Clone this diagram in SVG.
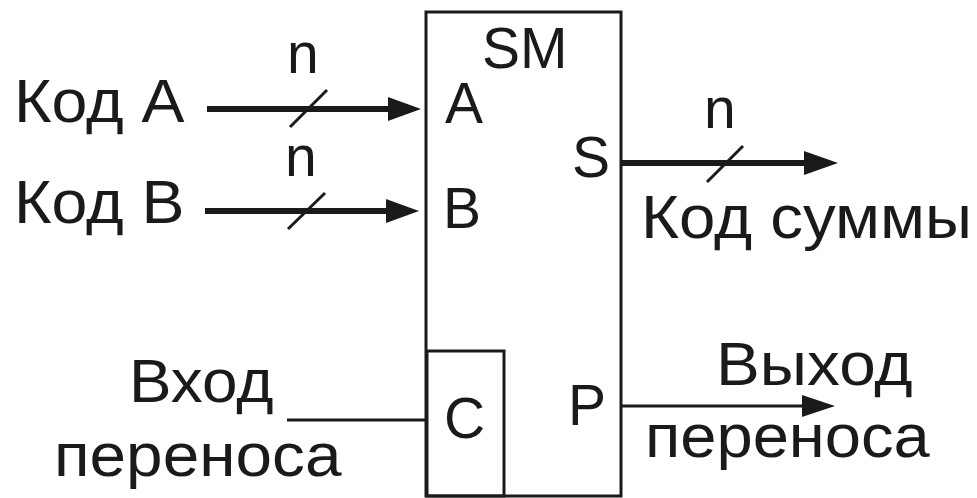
<svg xmlns="http://www.w3.org/2000/svg" width="977" height="498" viewBox="0 0 977 498">
<style>
text{font-family:"Liberation Sans",Arial,sans-serif;fill:#1a1a1a}
.big{font-size:62px}
.lbl{font-size:57px}
.box{fill:none;stroke:#1a1a1a;stroke-width:3}
.bus{stroke:#1a1a1a;stroke-width:6;fill:none}
.thin{stroke:#1a1a1a;stroke-width:3;fill:none}
.slash{stroke:#1a1a1a;stroke-width:3}
.head{fill:#1a1a1a}
</style>
<rect width="977" height="498" fill="#fff"/>
<g id="sm">
<rect class="box" x="426" y="12" width="195" height="484"/>
<rect class="box" x="427" y="351" width="77" height="145"/>
<text class="lbl" x="482" y="68">SM</text>
<text class="lbl" x="445" y="123">A</text>
<text class="lbl" x="443" y="228">B</text>
<text class="lbl" x="572" y="177">S</text>
<text class="lbl" x="444" y="438">C</text>
<text class="lbl" x="568" y="425">P</text>
</g>
<g id="labels">
<text class="big" transform="translate(14 122) scale(1.04 1)">Код A</text>
<text class="big" transform="translate(14 223) scale(1.04 1)">Код B</text>
<text class="lbl" x="287" y="73">n</text>
<text class="lbl" x="285" y="176">n</text>
<text class="lbl" x="704" y="128">n</text>
<text class="big" transform="translate(641 238) scale(1.055 1)">Код суммы</text>
<text class="big" transform="translate(129 402) scale(1.03 1)">Вход</text>
<text class="big" transform="translate(54 476) scale(1.06 1)">переноса</text>
<text class="big" transform="translate(716 385) scale(1.06 1)">Выход</text>
<text class="big" transform="translate(645 457) scale(1.05 1)">переноса</text>
</g>
<g id="connectors">
<line class="bus" x1="207" y1="109" x2="392" y2="109"/>
<polygon class="head" points="388,97 421,109 388,121"/>
<line class="slash" x1="290" y1="127" x2="327" y2="90"/>
<line class="bus" x1="205" y1="211" x2="390" y2="211"/>
<polygon class="head" points="386,199 419,211 386,223"/>
<line class="slash" x1="288" y1="229" x2="325" y2="193"/>
<line class="bus" x1="621" y1="163" x2="808" y2="163"/>
<polygon class="head" points="804,151 838,163 804,175"/>
<line class="slash" x1="707" y1="182" x2="743" y2="146"/>
<line class="thin" x1="287" y1="420" x2="427" y2="420"/>
<line class="thin" x1="621" y1="406" x2="806" y2="406"/>
<polygon class="head" points="802,395 835,406 802,417"/>
</g>
</svg>
